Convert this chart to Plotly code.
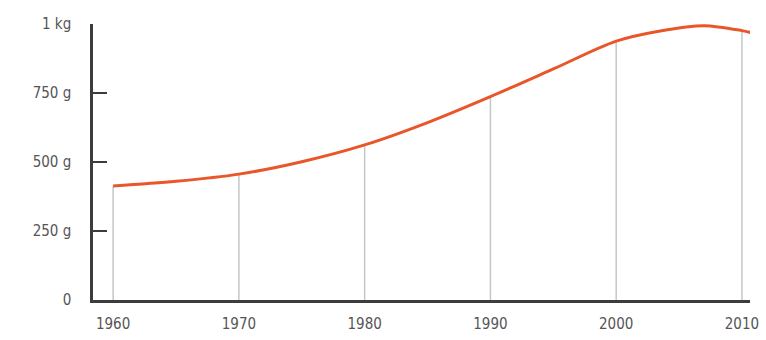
import plotly.graph_objects as go

years = [1960, 1965, 1970, 1975, 1980, 1985, 1990, 1995, 2000, 2003.5, 2007, 2010, 2010.8]
grams = [413, 430, 456, 501, 562, 643, 737, 837, 938, 975, 994, 976, 968]

decades = [1960, 1970, 1980, 1990, 2000, 2010]
decade_vals = [413, 456, 562, 737, 938, 976]

ytick_vals = [0, 250, 500, 750, 1000]
ytick_text = ["0", "250 g", "500 g", "750 g", "1 kg"]

fig = go.Figure()

for x, v in zip(decades, decade_vals):
    fig.add_trace(go.Scatter(x=[x, x], y=[0, v], mode="lines",
                             line=dict(color="#c4c7ca", width=1.5),
                             hoverinfo="skip", showlegend=False))

fig.add_trace(go.Scatter(x=years, y=grams, mode="lines",
                         line=dict(color="#e8562a", width=3, shape="spline", smoothing=0.9),
                         showlegend=False, cliponaxis=False))

font_family = "DejaVu Sans Condensed, Liberation Sans Narrow, Liberation Sans, Arial"

fig.update_layout(
    width=766, height=340,
    margin=dict(l=93, r=16, t=24, b=40),
    paper_bgcolor="white", plot_bgcolor="white",
    font=dict(family=font_family, size=15, color="#555555"),
    xaxis=dict(range=[1958.4, 2010.64], tickvals=decades,
               ticktext=[str(d) for d in decades],
               showgrid=False, zeroline=False, showline=True,
               linecolor="#3c3c3c", linewidth=2.5, ticks="",
               ticklabelstandoff=8, automargin=False,
               tickfont=dict(family=font_family, size=15, color="#555555")),
    yaxis=dict(range=[0, 1000], tickvals=ytick_vals, ticktext=ytick_text,
               showgrid=False, zeroline=False, showline=True,
               linecolor="#3c3c3c", linewidth=2.5,
               ticks="inside", ticklen=14, tickwidth=2, tickcolor="#3c3c3c",
               ticklabelstandoff=16, automargin=False,
               tickfont=dict(family=font_family, size=15, color="#555555")),
)

fig.write_html("out.html")
